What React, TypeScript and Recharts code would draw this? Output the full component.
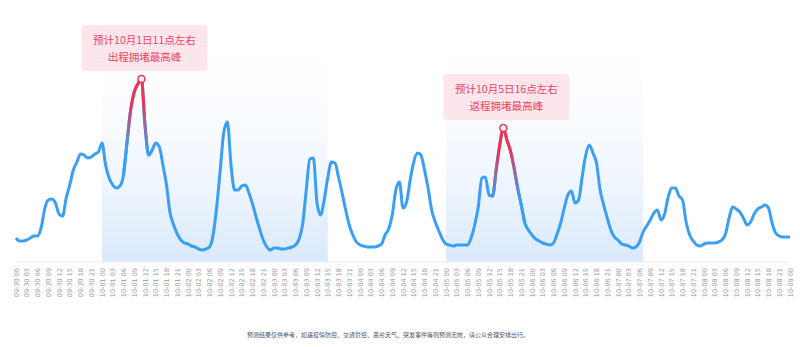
import React from 'react';
import { LineChart, Line, XAxis, YAxis, ReferenceArea } from 'recharts';

// congestion index, one value per hour
const day0930 = [1.24, 1.21, 1.21, 1.22, 1.24, 1.26, 1.26, 1.34, 1.53, 1.62, 1.63, 1.59, 1.48, 1.46, 1.64, 1.77, 1.92, 2.0, 2.08, 2.07, 2.04, 2.05, 2.08, 2.1];
const day1001 = [2.19, 1.97, 1.84, 1.77, 1.74, 1.76, 1.87, 2.2, 2.52, 2.7, 2.78, 2.83, 2.37, 2.07, 2.12, 2.19, 2.15, 1.97, 1.77, 1.49, 1.37, 1.28, 1.22, 1.19];
const day1002 = [1.18, 1.16, 1.15, 1.13, 1.12, 1.13, 1.15, 1.27, 1.55, 1.92, 2.3, 2.4, 1.97, 1.72, 1.72, 1.76, 1.77, 1.69, 1.58, 1.45, 1.33, 1.22, 1.15, 1.12];
const day1003 = [1.14, 1.14, 1.13, 1.13, 1.14, 1.15, 1.17, 1.23, 1.38, 1.72, 2.03, 2.04, 1.59, 1.47, 1.62, 1.84, 2.0, 1.99, 1.85, 1.69, 1.52, 1.37, 1.27, 1.2];
const day1004 = [1.17, 1.16, 1.15, 1.15, 1.15, 1.16, 1.18, 1.27, 1.33, 1.47, 1.72, 1.8, 1.54, 1.6, 1.82, 2.0, 2.09, 2.07, 1.92, 1.74, 1.52, 1.4, 1.31, 1.23];
const day1005 = [1.18, 1.17, 1.16, 1.17, 1.17, 1.17, 1.17, 1.24, 1.37, 1.55, 1.84, 1.85, 1.67, 1.66, 1.92, 2.17, 2.34, 2.22, 2.11, 1.94, 1.74, 1.57, 1.39, 1.32];
const day1006 = [1.27, 1.23, 1.21, 1.19, 1.18, 1.17, 1.19, 1.28, 1.39, 1.54, 1.67, 1.71, 1.59, 1.62, 1.85, 2.07, 2.17, 2.09, 1.99, 1.72, 1.57, 1.44, 1.32, 1.25];
const day1007 = [1.22, 1.18, 1.17, 1.16, 1.14, 1.15, 1.2, 1.3, 1.36, 1.42, 1.49, 1.52, 1.42, 1.48, 1.65, 1.74, 1.74, 1.66, 1.62, 1.4, 1.27, 1.21, 1.17, 1.16];
const day1008 = [1.18, 1.19, 1.19, 1.19, 1.2, 1.22, 1.28, 1.44, 1.55, 1.53, 1.5, 1.44, 1.37, 1.4, 1.48, 1.53, 1.55, 1.57, 1.54, 1.39, 1.29, 1.26, 1.25, 1.25];
const day1009 = [1.25];

const DAYS = ['09-30', '10-01', '10-02', '10-03', '10-04', '10-05', '10-06', '10-07', '10-08'];
const LAST_LABEL = '10-09 00';

const HOUR_VALUES = [...day0930, ...day1001, ...day1002, ...day1003, ...day1004, ...day1005, ...day1006, ...day1007, ...day1008, ...day1009];
const CATEGORIES = [
  ...DAYS.flatMap((d) => Array.from({ length: 24 }, (_, h) => `${d} ${String(h).padStart(2, '0')}`)),
  LAST_LABEL,
];

const BANDS = [
  ['10-01 00', '10-03 15'],
  ['10-05 00', '10-07 07'],
];

const PEAKS = [
  { key: 'p0', from: '10-01 06', at: '10-01 11', to: '10-01 14', line1: '预计10月1日11点左右', line2: '出程拥堵最高峰' },
  { key: 'p1', from: '10-05 12', at: '10-05 16', to: '10-05 22', line1: '预计10月5日16点左右', line2: '返程拥堵最高峰' },
];

const FOOTNOTE = '预测结果仅供参考，如遇疫情防控、交通管控、恶劣天气、突发事件等则预测无效，请公众合理安排出行。';

const BLUE = '#3a9ff4';
const RED = '#f0334f';

const rows = CATEGORIES.map((t, i) => {
  const row: any = { t, v: HOUR_VALUES[i] };
  PEAKS.forEach((p) => {
    const a = CATEGORIES.indexOf(p.from);
    const b = CATEGORIES.indexOf(p.to);
    row[p.key] = i >= a && i <= b ? HOUR_VALUES[i] : null;
  });
  return row;
});

const VerticalTick = ({ x, y, payload }: any) => (
  <text
    transform={`translate(${x + 2.5},${y - 2}) rotate(-90)`}
    textAnchor="end"
    fontSize={6.5}
    fill="#9a9a9a"
    fontFamily="'DejaVu Sans', sans-serif"
  >
    {payload.value}
  </text>
);

const PeakMark = ({ cx, cy, line1, line2 }: any) => (
  <g>
    <rect x={cx + 3 - 63} y={cy - 54} width={126} height={46} rx={4} fill="#fde6eb" />
    <text x={cx + 3} y={cy - 40} textAnchor="middle" dominantBaseline="central" fontSize={10.5} fill="#ee4462" fontFamily="'Noto Sans CJK SC', sans-serif">
      {line1}
    </text>
    <text x={cx + 3} y={cy - 23} textAnchor="middle" dominantBaseline="central" fontSize={10.5} fill="#ee4462" fontFamily="'Noto Sans CJK SC', sans-serif">
      {line2}
    </text>
    <circle cx={cx} cy={cy} r={3.5} fill="#fff" stroke={RED} strokeWidth={1.5} />
  </g>
);

export default function App() {
  return (
    <div style={{ position: 'absolute', left: 0, top: 0, width: 800, height: 347, background: '#fff', fontFamily: "'Noto Sans CJK SC', sans-serif" }}>
      <LineChart width={800} height={347} data={rows} margin={{ top: 22, right: 10, left: 16, bottom: 45 }}>
        <defs>
          <linearGradient id="bandFill" x1="0" y1="0" x2="0" y2="1">
            <stop offset="0%" stopColor="#ffffff" stopOpacity={0} />
            <stop offset="100%" stopColor="#d9e9fb" stopOpacity={1} />
          </linearGradient>
          <linearGradient id="peakStroke" x1="0" y1="0" x2="0" y2="1">
            <stop offset="0%" stopColor={RED} />
            <stop offset="25%" stopColor={RED} />
            <stop offset="75%" stopColor={BLUE} />
            <stop offset="100%" stopColor={BLUE} />
          </linearGradient>
        </defs>
        {BANDS.map(([a, b]) => (
          <ReferenceArea key={a} x1={a} x2={b} fill="url(#bandFill)" fillOpacity={1} stroke="none" />
        ))}
        <XAxis
          dataKey="t"
          interval={2}
          tickLine={false}
          axisLine={{ stroke: '#ececec' }}
          height={40}
          tick={<VerticalTick />}
        />
        <YAxis hide domain={[1, 3.4]} />
        <Line type="monotone" dataKey="v" stroke={BLUE} strokeWidth={3} dot={false} isAnimationActive={false} strokeLinejoin="round" />
        {PEAKS.map((p) => (
          <Line
            key={p.key}
            type="monotone"
            dataKey={p.key}
            stroke="url(#peakStroke)"
            strokeWidth={3}
            connectNulls={false}
            isAnimationActive={false}
            dot={(props: any) =>
              props.payload && props.payload.t === p.at && props.cx != null ? (
                <PeakMark key={`${p.key}-mark`} cx={props.cx} cy={props.cy} line1={p.line1} line2={p.line2} />
              ) : (
                <g key={`${p.key}-${props.index}`} />
              )
            }
          />
        ))}
      </LineChart>
      <div style={{ position: 'absolute', left: 0, top: 330, width: 776, textAlign: 'center', fontSize: 6, color: '#555', whiteSpace: 'nowrap' }}>
        {FOOTNOTE}
      </div>
    </div>
  );
}
